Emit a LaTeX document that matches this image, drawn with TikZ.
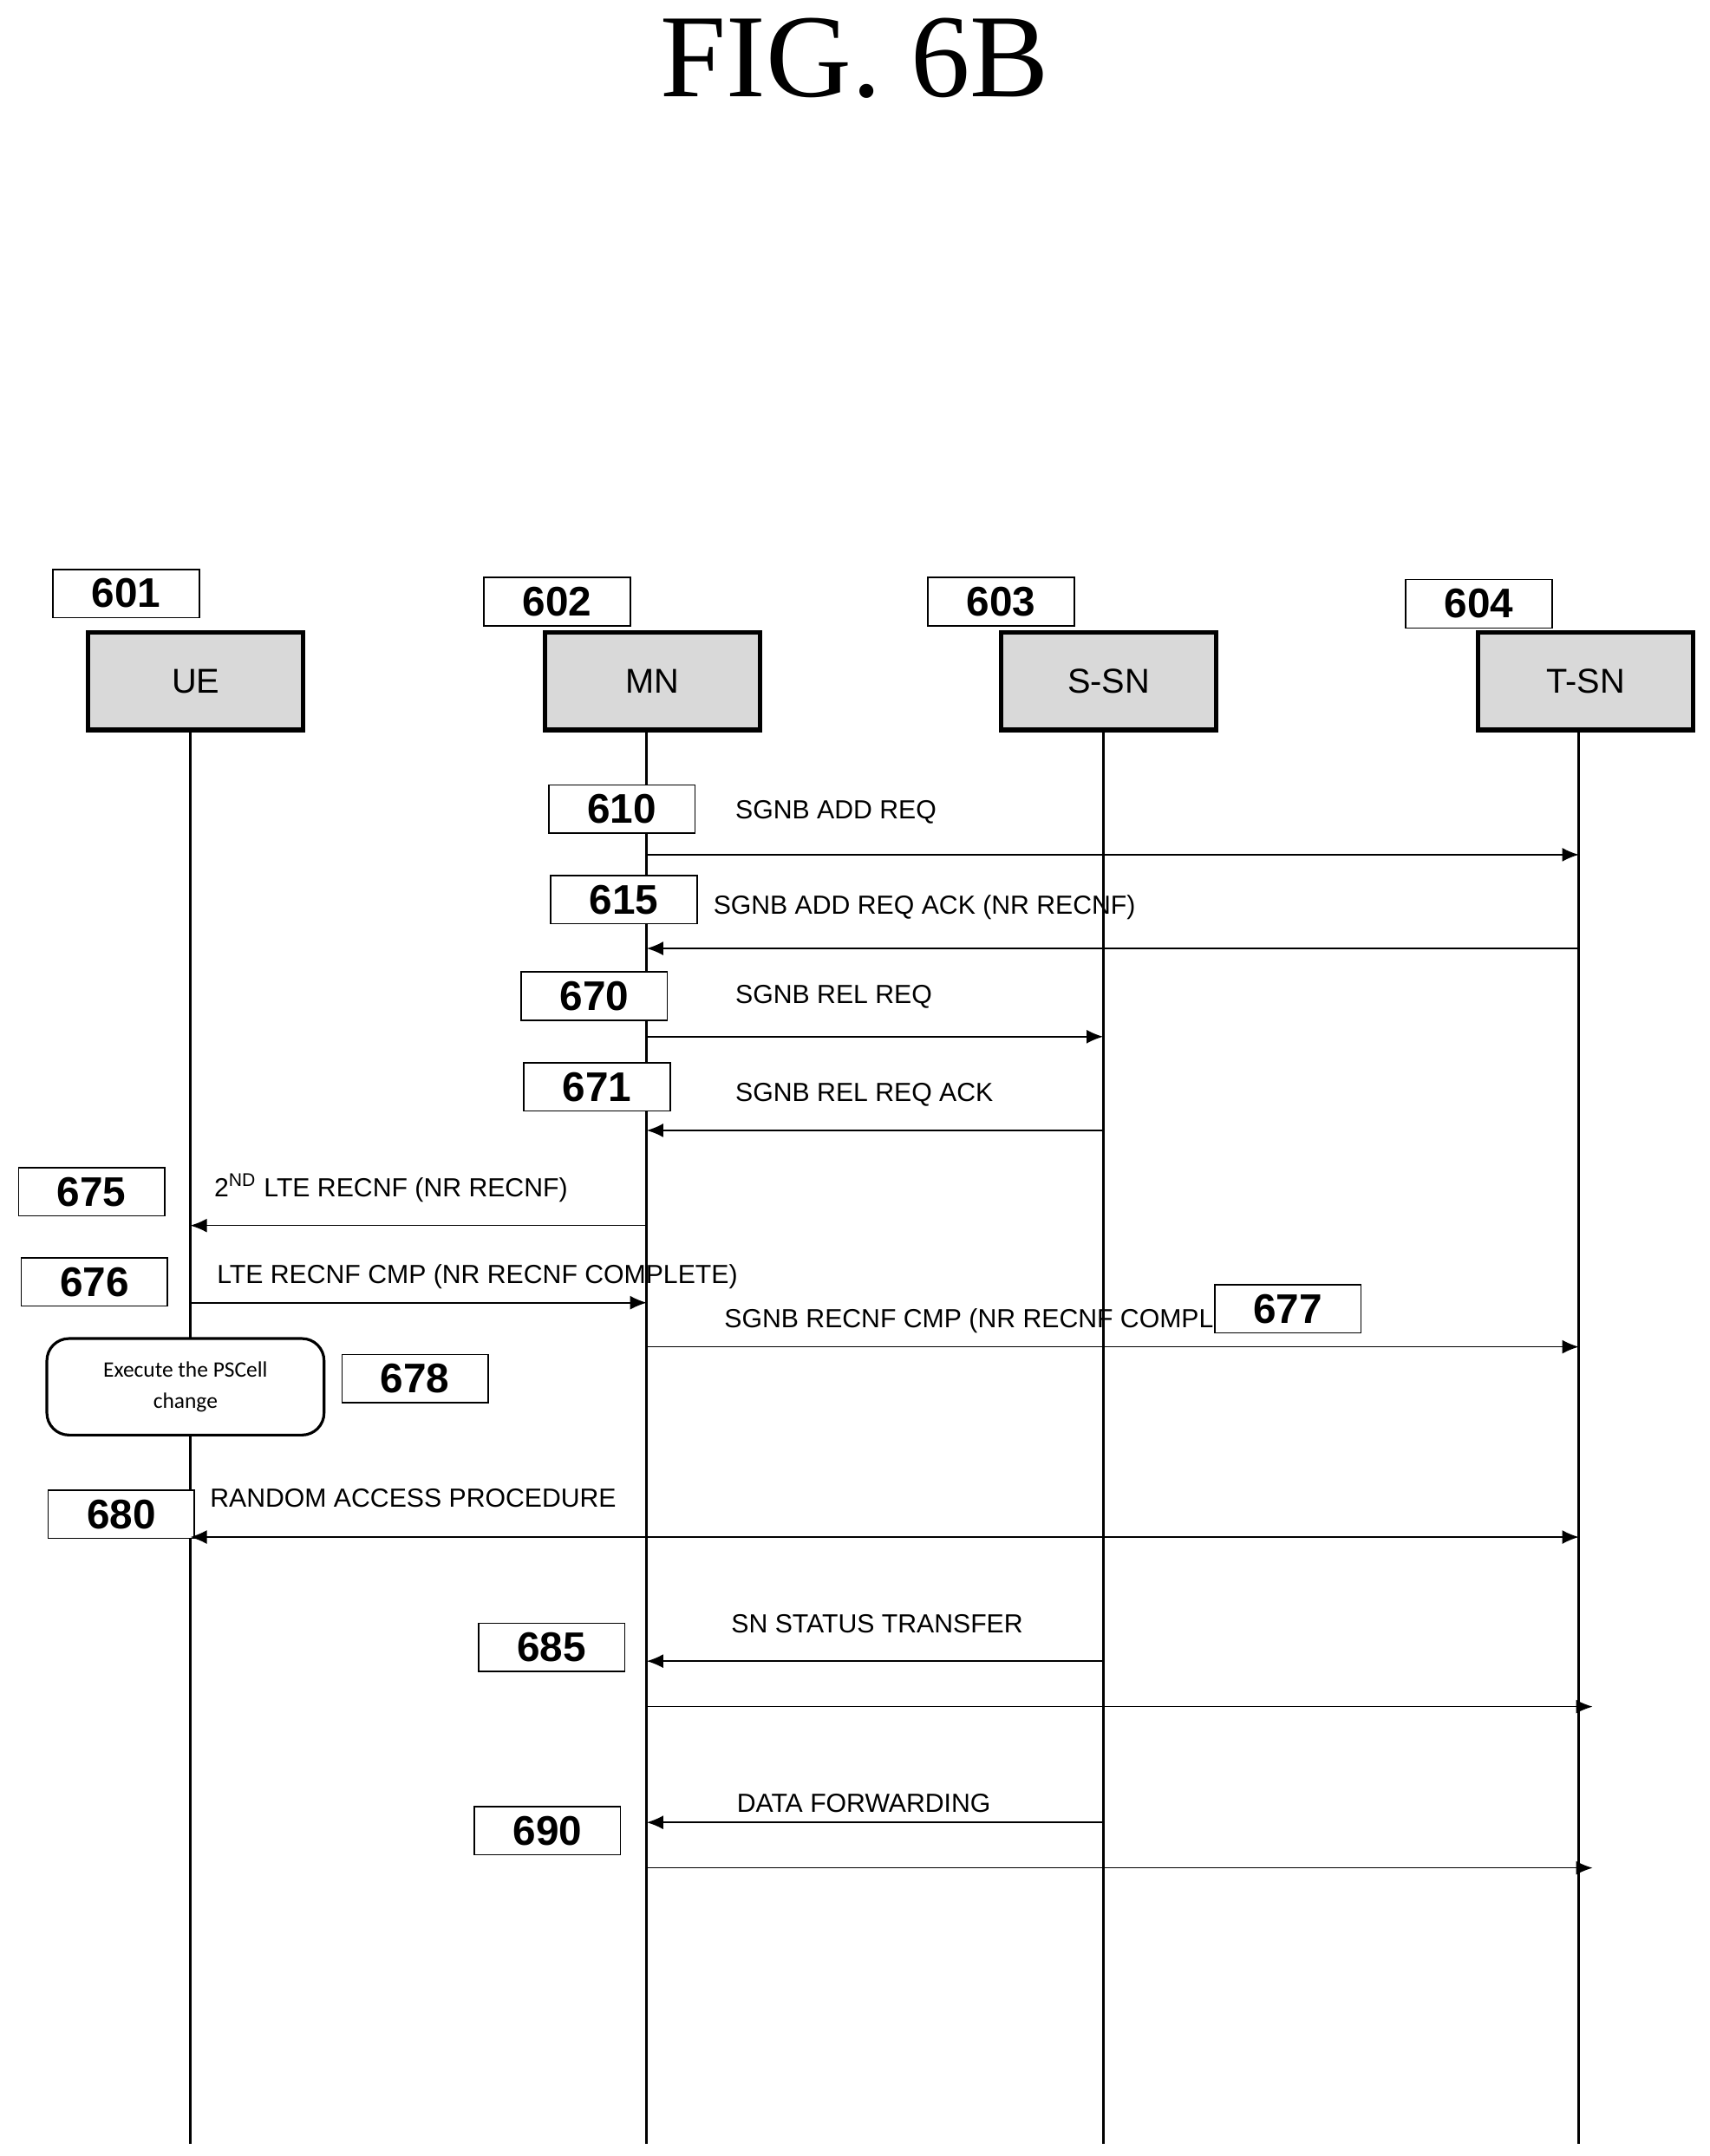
\documentclass[tikz,border=0pt]{standalone}
\usepackage{fontspec}
\setmainfont{Liberation Sans}
\newfontfamily\titlefont{Liberation Serif}
\newfontfamily\carl{Carlito}
\usetikzlibrary{arrows.meta}
\begin{document}
\begin{tikzpicture}[x=0.5pt,y=-0.5pt,
  ent/.style={draw,line width=1.6pt,fill=gray!30,minimum width=78pt,minimum height=35.5pt,inner sep=0pt,font=\fontsize{12.5}{15}\selectfont},
  num/.style={draw,line width=0.5pt,fill=white,minimum width=53pt,minimum height=17.5pt,inner sep=0pt,font=\fontsize{15}{18}\bfseries\selectfont},
  lbl/.style={anchor=west,inner sep=0pt,font=\fontsize{9.5}{12}\selectfont},
  life/.style={line width=1pt},
  msg/.style={line width=0.5pt,-{Latex[length=6pt,width=5pt]}},
  dmsg/.style={line width=0.5pt,{Latex[length=6pt,width=5pt]}-{Latex[length=6pt,width=5pt]}}]
\useasboundingbox (0,0) rectangle (1240,1564);
\node[font=\titlefont\fontsize{43}{48}\selectfont] (title) at (620,42) {FIG. 6B};
% entities
\node[ent] (ue) at (142,494) {UE};
\node[ent] (mn) at (473,494) {MN};
\node[ent] (ssn) at (804,494) {S-SN};
\node[ent] (tsn) at (1150,494) {T-SN};
\node[num] (n601) at (91.5,430.5) {601};
\node[num] (n602) at (404,436.5) {602};
\node[num] (n603) at (726,436.5) {603};
\node[num] (n604) at (1072.5,438) {604};
% lifeline ends
\coordinate (ueE) at (138,1555);
\coordinate (mnE) at (469,1555);
\coordinate (ssnE) at (800,1555);
\coordinate (tsnE) at (1145,1555);
\draw[life] (ue.south -| ueE) -- (ueE);
\draw[life] (mn.south -| mnE) -- (mnE);
\draw[life] (ssn.south -| ssnE) -- (ssnE);
\draw[life] (tsn.south -| tsnE) -- (tsnE);
% messages
\node[num] (n610) at (451,587) {610};
\node[lbl] (t610) at (533,589) {SGNB ADD REQ};
\draw[msg] (mnE |- 0,620) -- (tsnE |- 0,620);
\node[num] (n615) at (452.5,652.5) {615};
\node[lbl] (t615) at (517,658) {SGNB ADD REQ ACK (NR RECNF)};
\draw[msg] (tsnE |- 0,688) -- (mnE |- 0,688);
\node[num] (n670) at (431,722.5) {670};
\node[lbl] (t670) at (533,723) {SGNB REL REQ};
\draw[msg] (mnE |- 0,752) -- (ssnE |- 0,752);
\node[num] (n671) at (433,788.5) {671};
\node[lbl] (t671) at (533,794) {SGNB REL REQ ACK};
\draw[msg] (ssnE |- 0,820) -- (mnE |- 0,820);
\node[num] (n675) at (66.5,864.5) {675};
\node[lbl] (t675) at (155,862) {2\textsuperscript{ND} LTE RECNF (NR RECNF)};
\draw[msg] (mnE |- 0,889) -- (ueE |- 0,889);
\node[num] (n676) at (68.5,930) {676};
\node[lbl] (t676) at (157,926) {LTE RECNF CMP (NR RECNF COMPLETE)};
\draw[msg] (ueE |- 0,945) -- (mnE |- 0,945);
\node[lbl] (t677) at (525,958) {SGNB RECNF CMP (NR RECNF COMPL};
\node[num] (n677) at (934,949.5) {677};
\draw[msg] (mnE |- 0,977) -- (tsnE |- 0,977);
\node[draw,line width=1pt,rounded corners=8pt,fill=white,minimum width=100.5pt,minimum height=35pt,align=center,font=\carl\fontsize{8}{11.5}\selectfont] (exec) at (134.5,1006) {Execute the PSCell\\change};
\node[num] (n678) at (301,1000) {678};
\node[num] (n680) at (88,1098.5) {680};
\node[lbl] (t680) at (152,1087) {RANDOM ACCESS PROCEDURE};
\draw[dmsg] (ueE |- 0,1115) -- (tsnE |- 0,1115);
\node[num] (n685) at (400,1195) {685};
\node[lbl] (t685) at (530,1178) {SN STATUS TRANSFER};
\draw[msg] (ssnE |- 0,1205) -- (mnE |- 0,1205);
\coordinate (e685) at (1155,1238);
\draw[msg] (mnE |- e685) -- (e685);
\node[num] (n690) at (397,1328) {690};
\node[lbl] (t690) at (534,1308) {DATA FORWARDING};
\draw[msg] (ssnE |- 0,1322) -- (mnE |- 0,1322);
\coordinate (e690) at (1155,1355);
\draw[msg] (mnE |- e690) -- (e690);
\end{tikzpicture}
\end{document}
